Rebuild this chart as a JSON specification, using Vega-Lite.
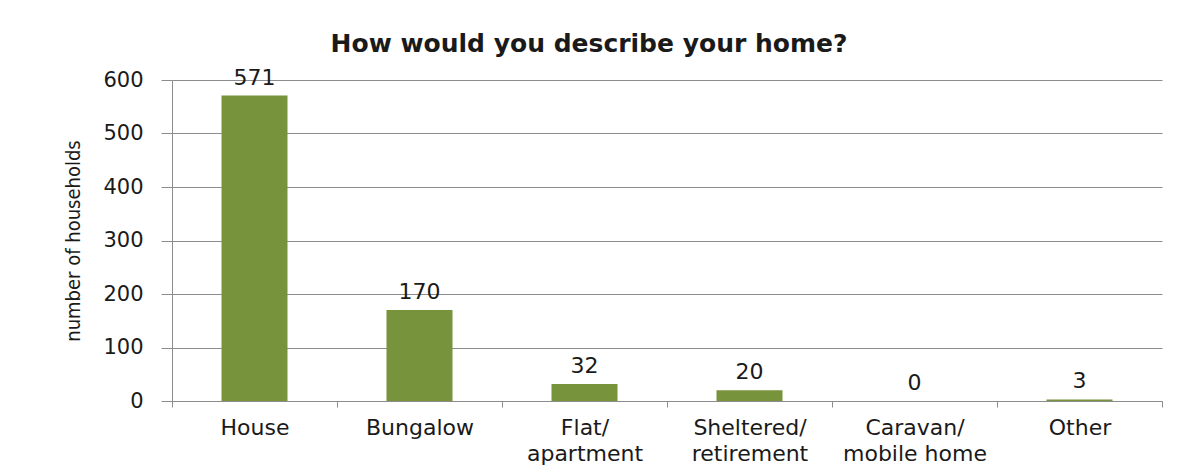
{
  "$schema": "https://vega.github.io/schema/vega-lite/v6.json",
  "autosize": {"type": "none"},
  "width": 990,
  "height": 321,
  "padding": {"left": 172, "top": 80, "right": 28, "bottom": 74},
  "background": "white",
  "title": {
    "text": "How would you describe your home?",
    "font": "DejaVu Sans",
    "fontSize": 25,
    "fontWeight": "bold",
    "color": "#1a1a1a",
    "anchor": "middle",
    "frame": "group",
    "dx": -78,
    "offset": 10
  },
  "data": {
    "values": [
      {"home": "House", "households": 571},
      {"home": "Bungalow", "households": 170},
      {"home": "Flat/apartment", "households": 32},
      {"home": "Sheltered/retirement", "households": 20},
      {"home": "Caravan/mobile home", "households": 0},
      {"home": "Other", "households": 3}
    ]
  },
  "encoding": {
    "x": {
      "field": "home",
      "type": "nominal",
      "sort": null,
      "scale": {"paddingInner": 0, "paddingOuter": 0},
      "axis": {
        "title": null,
        "labelAngle": 0,
        "labelExpr": "split(replace(datum.label, '/', '/|'), '|')",
        "labelFont": "DejaVu Sans",
        "labelFontSize": 22,
        "labelColor": "#1a1a1a",
        "labelLineHeight": 26,
        "labelPadding": 10,
        "tickBand": "extent",
        "tickSize": 6,
        "tickColor": "#8c8c8c",
        "domainColor": "#8c8c8c",
        "grid": false
      }
    },
    "y": {
      "field": "households",
      "type": "quantitative",
      "scale": {"domain": [0, 600]},
      "axis": {
        "title": "number of households",
        "titleFont": "DejaVu Sans Condensed, sans-serif",
        "titleFontSize": 20,
        "titleFontWeight": "normal",
        "titleColor": "#1a1a1a",
        "titlePadding": 19,
        "values": [0, 100, 200, 300, 400, 500, 600],
        "labelFont": "DejaVu Sans",
        "labelFontSize": 21,
        "labelColor": "#1a1a1a",
        "labelPadding": 18,
        "tickSize": 11,
        "tickColor": "#8c8c8c",
        "domainColor": "#8c8c8c",
        "gridColor": "#8c8c8c",
        "gridOpacity": 1
      }
    }
  },
  "layer": [
    {
      "mark": {"type": "bar", "color": "#77933C", "width": {"band": 0.4}}
    },
    {
      "mark": {
        "type": "text",
        "baseline": "bottom",
        "dy": -6,
        "font": "DejaVu Sans",
        "fontSize": 22,
        "color": "#1a1a1a"
      },
      "encoding": {"text": {"field": "households", "type": "quantitative"}}
    }
  ],
  "config": {
    "view": {"stroke": null}
  }
}
